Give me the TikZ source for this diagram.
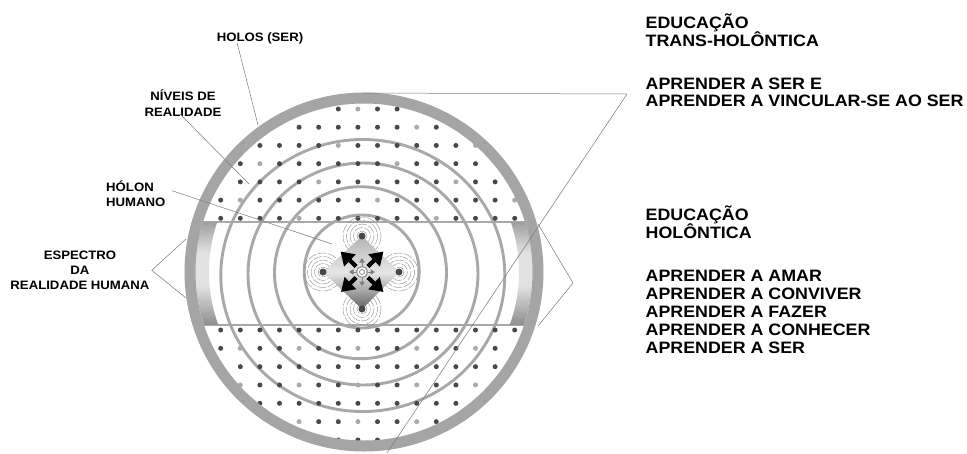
\documentclass[tikz,border=0pt]{standalone}
\usepackage{fontspec}
\setmainfont{Liberation Sans}[FakeStretch=1.08]
\usetikzlibrary{arrows.meta,calc}

\definecolor{ringgray}{RGB}{165,165,165}
\definecolor{circgray}{RGB}{168,168,168}
\definecolor{dotdark}{RGB}{72,72,72}
\definecolor{dotlight}{RGB}{170,170,170}
\definecolor{leadgray}{RGB}{120,120,120}
\definecolor{bardark}{RGB}{58,58,58}
\definecolor{bardark2}{RGB}{78,78,78}
\definecolor{barmid}{RGB}{155,155,155}
\definecolor{barlight}{RGB}{226,226,226}
\definecolor{dmtop}{RGB}{180,180,180}
\definecolor{dmmid}{RGB}{230,230,230}
\definecolor{dmbot}{RGB}{100,100,100}
\definecolor{ripple}{RGB}{150,150,150}

% dark at both ends, light in the middle
\pgfdeclareverticalshading{barshade}{100bp}{color(0bp)=(bardark); color(9bp)=(bardark2); color(28bp)=(barmid); color(44bp)=(barlight); color(60bp)=(barlight); color(76bp)=(barmid); color(91bp)=(bardark2); color(100bp)=(bardark)}

\begin{document}
\begin{tikzpicture}[x=1pt,y=-1pt,
  lbl/.style={font=\fontsize{12.2}{15}\selectfont\bfseries, inner sep=0pt, anchor=base},
  lblw/.style={lbl, anchor=base west},
  txt/.style={font=\fontsize{16.5}{18.3}\selectfont\bfseries, inner sep=0pt, anchor=base west},
  leader/.style={draw=leadgray, line width=0.5pt},
  level/.style={draw=circgray, line width=2.9pt},
  bandline/.style={draw=circgray, line width=2.6pt},
  vdot/.style={circle, fill=dotdark, inner sep=0pt, minimum size=7pt},
  bigarrow/.style={line width=4.2pt, -{Triangle[length=13pt,width=16pt]}},
  smallarrow/.style={draw=gray, line width=1pt, -{Triangle[length=4.5pt,width=5.5pt]}}]
\useasboundingbox (0,0) rectangle (967,453);

% levels of reality
\draw[level] (362.8,275.5) ellipse[x radius=142, y radius=136];
\draw[level] (363,274) ellipse[x radius=115, y radius=111];
\draw[level] (360.5,272.7) ellipse[x radius=86, y radius=86];
\draw[level] (361.7,271.5) ellipse[x radius=57.5, y radius=56.5];

% band of the human spectrum
\draw[bandline] (203,222) -- (525,222);
\draw[bandline] (203,325) -- (525,325);
\path[shading=barshade]
  ([shift={(364,272)}]197.3:168.5) arc[start angle=197.3, end angle=161.7, radius=168.5]
  -- ([shift={(364,272)}]160.1:155) arc[start angle=160.1, end angle=198.8, radius=155] -- cycle;
\path[shading=barshade]
  ([shift={(364,272)}]-17.3:168.5) arc[start angle=-17.3, end angle=18.3, radius=168.5]
  -- ([shift={(364,272)}]19.9:155) arc[start angle=19.9, end angle=-18.8, radius=155] -- cycle;

% dot field above the band
\foreach \r/\a/\b in {0/6/9,1/4/11,2/2/13,3/1/13,4/1/14,5/0/15,6/0/15}{
  \foreach \c in {\a,...,\b}{
    \pgfmathtruncatemacro\lt{mod(3*\c+5*\r,7)==0}
    \ifnum\lt=1 \def\dc{dotlight}\else\def\dc{dotdark}\fi
    \fill[\dc] ({220.7+19.6*\c},{109+18.22*\r}) circle[radius=2.5];
  }
}
% dot field below the band
\foreach \r/\a/\b in {0/0/15,1/0/14,2/1/14,3/1/13,4/2/12,5/4/11,6/5/9}{
  \foreach \c in {\a,...,\b}{
    \pgfmathtruncatemacro\lt{mod(2*\c+3*\r+1,6)==0}
    \ifnum\lt=1 \def\dc{dotlight}\else\def\dc{dotdark}\fi
    \fill[\dc] ({220.7+19.6*\c},{330+18.33*\r}) circle[radius=2.5];
  }
}

% holos ring
\draw[ringgray, line width=11pt] (364,272) circle[radius=174];

% human holon
\coordinate (dT) at (362,236);
\coordinate (dR) at (399,272);
\coordinate (dB) at (362,309);
\coordinate (dL) at (323,272);
\foreach \v in {dT,dR,dB,dL}
  \foreach \rr in {5,8.5,12,15.5,19}
    \draw[ripple, line width=0.45pt, dash pattern=on 9pt off 1.5pt] (\v) circle[radius=\rr];
\path[top color=dmtop, bottom color=dmbot, middle color=dmmid] (dT) -- (dR) -- (dB) -- (dL) -- cycle;
\foreach \v in {dT,dR,dB,dL}
  \node[vdot] (\v-dot) at (\v) {};
\node[circle, draw=gray!80, line width=1.3pt, fill=white, inner sep=0pt, minimum size=11pt] (hub) at (362,272) {};
\node[circle, draw=gray, line width=0.7pt, inner sep=0pt, minimum size=5pt] (hubcore) at (hub) {};
\coordinate (aNW) at (340.5,251.5);
\coordinate (aNE) at (383.5,251.5);
\coordinate (aSW) at (341,292);
\coordinate (aSE) at (383.5,292);
\foreach \t in {aNW,aNE,aSW,aSE}
  \draw[bigarrow] ($(hub)!8pt!(\t)$) -- (\t);
\coordinate (sU) at (362,258);
\coordinate (sD) at (362,286);
\coordinate (sL) at (349,272);
\coordinate (sR) at (375,272);
\foreach \t in {sU,sD,sL,sR}
  \draw[smallarrow] (hub) -- (\t);

% left labels
\node[lbl] (holos) at (260,41.7) {HOLOS (SER)};
\node[lbl] (niv1) at (183,100) {NÍVEIS DE};
\node[lbl] (niv2) at (183,116.7) {REALIDADE};
\node[lblw] (hol1) at (106,191.7) {HÓLON};
\node[lblw] (hol2) at (106,206.7) {HUMANO};
\node[lbl] (esp1) at (80,259.3) {ESPECTRO};
\node[lbl] (esp2) at (80,274.3) {DA};
\node[lbl] (esp3) at (80,289.3) {REALIDADE HUMANA};

% right texts
\node[txt] (et1) at (645.5,28.3) {EDUCAÇÃO};
\node[txt] (et2) at (645.5,46.7) {TRANS-HOLÔNTICA};
\node[txt] (et3) at (645.5,89.3) {APRENDER A SER E};
\node[txt] (et4) at (645.5,106.7) {APRENDER A VINCULAR-SE AO SER};
\node[txt] (eh1) at (645.5,220) {EDUCAÇÃO};
\node[txt] (eh2) at (645.5,238.5) {HOLÔNTICA};
\node[txt] (eh3) at (645.5,281) {APRENDER A AMAR};
\node[txt] (eh4) at (645.5,299.3) {APRENDER A CONVIVER};
\node[txt] (eh5) at (645.5,317.3) {APRENDER A FAZER};
\node[txt] (eh6) at (645.5,335.6) {APRENDER A CONHECER};
\node[txt] (eh7) at (645.5,353.8) {APRENDER A SER};

% leader lines
\coordinate (holosEnd) at (258,125);
\coordinate (nivEnd) at (249,184);
\coordinate (holEnd) at (332,244);
\coordinate (espV) at ($(esp3.base east)+(2,-19)$);
\coordinate (espUp) at (186,239);
\coordinate (espDn) at (186,298);
\draw[leader] ([xshift=-23pt,yshift=2pt]holos.south) -- (holosEnd);
\draw[leader] ([xshift=-3pt,yshift=3pt]niv2.south) -- (nivEnd);
\draw[leader] ($(hol1.base east)+(18,-1)$) -- (holEnd);
\draw[leader] (espUp) -- (espV) -- (espDn);

% wedges to the two kinds of education
\coordinate (ringTop) at (362,93);
\coordinate (wA) at (627,94);
\coordinate (wB) at (387,453);
\draw[leader] (ringTop) -- (wA) -- (wB);
\coordinate (bandTop) at (538,224);
\coordinate (wC) at (573,283);
\coordinate (bandBot) at (538,326);
\draw[leader] (bandTop) -- (wC) -- (bandBot);
\end{tikzpicture}
\end{document}
